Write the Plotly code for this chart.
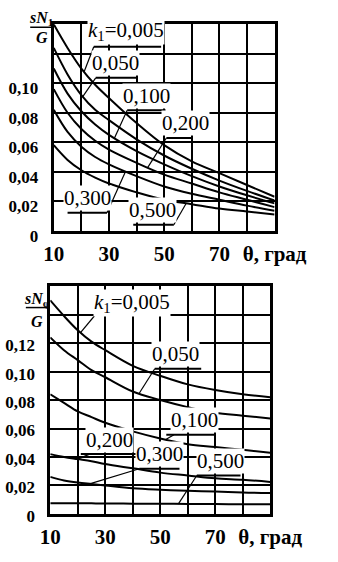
import numpy as np
import plotly.graph_objects as go

# ---------------- data ----------------
theta = [10, 15, 20, 25, 30, 40, 50, 60, 70, 80, 90]
k_labels = ["0,005", "0,050", "0,100", "0,200", "0,300", "0,500"]

# upper chart: sN1/G
n1_k0005 = [0.140, 0.124, 0.110, 0.099, 0.090, 0.073, 0.058, 0.047, 0.039, 0.031, 0.023]
n1_k0050 = [0.124, 0.106, 0.092, 0.082, 0.075, 0.062, 0.051, 0.042, 0.034, 0.027, 0.0205]
n1_k0100 = [0.110, 0.093, 0.081, 0.072, 0.065, 0.054, 0.045, 0.037, 0.030, 0.024, 0.0185]
n1_k0200 = [0.096, 0.080, 0.069, 0.061, 0.055, 0.046, 0.038, 0.032, 0.026, 0.021, 0.016]
n1_k0300 = [0.082, 0.067, 0.057, 0.050, 0.045, 0.037, 0.030, 0.025, 0.021, 0.017, 0.0135]
n1_k0500 = [0.058, 0.048, 0.041, 0.036, 0.032, 0.026, 0.021, 0.018, 0.015, 0.013, 0.011]

# lower chart: sN2/G
n2_k0005 = [0.150, 0.139, 0.129, 0.121, 0.115, 0.104, 0.097, 0.091, 0.087, 0.084, 0.082]
n2_k0050 = [0.124, 0.115, 0.108, 0.101, 0.096, 0.086, 0.080, 0.075, 0.071, 0.069, 0.067]
n2_k0100 = [0.084, 0.078, 0.072, 0.068, 0.064, 0.058, 0.053, 0.049, 0.047, 0.045, 0.043]
n2_k0200 = [0.042, 0.040, 0.0385, 0.037, 0.035, 0.032, 0.029, 0.027, 0.025, 0.024, 0.0225]
n2_k0300 = [0.026, 0.0235, 0.022, 0.021, 0.020, 0.018, 0.017, 0.0163, 0.0157, 0.015, 0.0146]
n2_k0500 = [0.0075, 0.0075, 0.0074, 0.0074, 0.0073, 0.0072, 0.0071, 0.0070, 0.0069, 0.0068, 0.0068]

x_tickvals = [10, 30, 50, 70, 90]
x_ticktext = ["10", "30", "50", "70", "θ, град"]
y1_tickvals = [0, 0.02, 0.04, 0.06, 0.08, 0.10]
y1_ticktext = ["0", "0,02", "0,04", "0,06", "0,08", "0,10"]
y2_tickvals = [0, 0.02, 0.04, 0.06, 0.08, 0.10, 0.12]
y2_ticktext = ["0", "0,02", "0,04", "0,06", "0,08", "0,10", "0,12"]

top_series = [n1_k0005, n1_k0050, n1_k0100, n1_k0200, n1_k0300, n1_k0500]
bot_series = [n2_k0005, n2_k0050, n2_k0100, n2_k0200, n2_k0300, n2_k0500]

# ---------------- figure ----------------
W, H = 338, 562
FONT = "Liberation Serif"
fig = go.Figure()

for s in top_series:
    fig.add_trace(go.Scatter(x=theta, y=s, mode="lines", line=dict(color="black", width=2, shape="spline"),
                             xaxis="x", yaxis="y", hoverinfo="skip"))
for s in bot_series:
    fig.add_trace(go.Scatter(x=theta, y=s, mode="lines", line=dict(color="black", width=2, shape="spline"),
                             xaxis="x2", yaxis="y2", hoverinfo="skip"))


def px_x(a, b):
    return [a / W, b / W]


def px_y(top, bottom):
    return [1 - bottom / H, 1 - top / H]


axis_common = dict(showline=True, linewidth=3, linecolor="black", mirror=True,
                   showgrid=True, gridcolor="black", gridwidth=2, zeroline=False,
                   ticks="outside", tickcolor="rgba(0,0,0,0)", fixedrange=True)
x_minor = dict(dtick=10, tick0=0, showgrid=True, gridcolor="black", gridwidth=2, ticks="")
y_minor = dict(dtick=0.02, tick0=0, showgrid=True, gridcolor="black", gridwidth=2, ticks="")

xfont = dict(family=FONT, size=21, color="black", weight="bold")
yfont = dict(family=FONT, size=17, color="black", weight="bold")

fig.update_layout(
    width=W, height=H, margin=dict(l=0, r=0, t=0, b=0),
    paper_bgcolor="white", plot_bgcolor="white", showlegend=False,
    xaxis=dict(domain=px_x(49, 302), range=[10, 90], anchor="y",
               tickvals=x_tickvals, ticktext=x_ticktext, ticklen=2,
               tickfont=xfont, minor=x_minor, **axis_common),
    yaxis=dict(domain=px_y(25, 237), range=[0, 0.14], anchor="x",
               tickvals=y1_tickvals, ticktext=y1_ticktext, ticklen=9, ticklabelshift=5,
               tickfont=yfont, minor=y_minor, **axis_common),
    xaxis2=dict(domain=px_x(45, 297), range=[10, 90], anchor="y2",
                tickvals=x_tickvals, ticktext=x_ticktext, ticklen=2,
                tickfont=xfont, minor=x_minor, **axis_common),
    yaxis2=dict(domain=px_y(294, 528), range=[0, 0.16], anchor="x2",
                tickvals=y2_tickvals, ticktext=y2_ticktext, ticklen=9, ticklabelshift=2,
                tickfont=yfont, minor=y_minor, **axis_common),
)

# ------------- curve labels with underline and leader -------------
# (label index, text centre theta, centre value, underline theta range, underline value,
#  leader start theta, leader start value, leader end theta on curve)
top_labels = [
    (0, 36.2, 0.1318, (24.5, 48.9), 0.1248, 24.5, 0.1248, 21.0),
    (1, 32.5, 0.1100, (25.2, 40.4), 0.1037, 25.2, 0.1037, 20.5),
    (2, 43.5, 0.0888, (36.6, 50.5), 0.0817, 36.6, 0.0817, 32.0),
    (3, 57.6, 0.0697, (50.8, 60.3), 0.0629, 50.8, 0.0629, 44.0),
    (4, 22.2, 0.0182, (15.0, 29.3), 0.0122, 29.3, 0.0122, 36.0),
    (5, 45.9, 0.0096, (38.8, 53.5), 0.0040, 53.5, 0.0040, 58.0),
]
bot_labels = [
    (0, 39.7, 0.1495, None, None, 28.0, 0.1436, 21.0),
    (1, 55.7, 0.1105, (48.0, 64.9), 0.1020, 48.0, 0.1020, 42.3),
    (2, 62.4, 0.0619, (52.2, 69.7), 0.0556, 55.0, 0.0556, 52.0),
    (3, 31.4, 0.0482, (21.1, 42.4), 0.0420, 24.3, 0.0420, 20.0),
    (4, 49.7, 0.0393, (42.4, 57.0), 0.0317, 42.4, 0.0317, 24.3),
    (5, 71.9, 0.0328, (63.3, 79.2), 0.0270, 63.3, 0.0270, 56.6),
]


def add_labels(specs, series, xr, yr):
    for idx, cx, cy, urange, uy, lx, ly, lend in specs:
        txt = k_labels[idx]
        if idx == 0:
            txt = "<i>k</i><sub>1</sub>=" + txt
        ex = lend
        ey = float(np.interp(lend, theta, series[idx]))
        fig.add_shape(type="line", xref=xr, yref=yr, x0=lx, y0=ly, x1=ex, y1=ey,
                      line=dict(color="black", width=1.2), layer="above")
        font = dict(family=FONT, size=21, color="black")
        if urange is not None:
            fig.add_annotation(x=cx, y=uy, xref=xr, yref=yr, text=txt, showarrow=False,
                               xanchor="center", yanchor="bottom", yshift=1.5,
                               font=font, bgcolor="white", borderpad=0)
            fig.add_shape(type="line", xref=xr, yref=yr, x0=urange[0], x1=urange[1], y0=uy, y1=uy,
                          line=dict(color="black", width=2), layer="above")
        else:
            fig.add_annotation(x=cx, y=cy, xref=xr, yref=yr, text=txt, showarrow=False,
                               xanchor="center", yanchor="middle", yshift=-2,
                               font=font, bgcolor="white", borderpad=0)


add_labels(top_labels, top_series, "x", "y")
add_labels(bot_labels, bot_series, "x2", "y2")


# ------------- y-axis titles (fractions) -------------
def frac(cx, top_y, bar_y, g_y, x0, x1, sub):
    fig.add_annotation(x=cx / W, y=1 - top_y / H, xref="paper", yref="paper",
                       xanchor="center", yanchor="middle",
                       text="<i>sN</i><sub>" + sub + "</sub>", showarrow=False,
                       font=dict(family=FONT, size=16, color="black", weight="bold"))
    fig.add_shape(type="line", xref="paper", yref="paper", x0=x0 / W, x1=x1 / W,
                  y0=1 - bar_y / H, y1=1 - bar_y / H, line=dict(color="black", width=1.5))
    fig.add_annotation(x=cx / W, y=1 - g_y / H, xref="paper", yref="paper",
                       xanchor="center", yanchor="middle",
                       text="<i>G</i>", showarrow=False,
                       font=dict(family=FONT, size=16, color="black", weight="bold"))


frac(35, 19, 28, 38.5, 22, 48, "1")
frac(30, 308, 316, 330, 17, 43, "φ")

fig.write_html("out.html")
